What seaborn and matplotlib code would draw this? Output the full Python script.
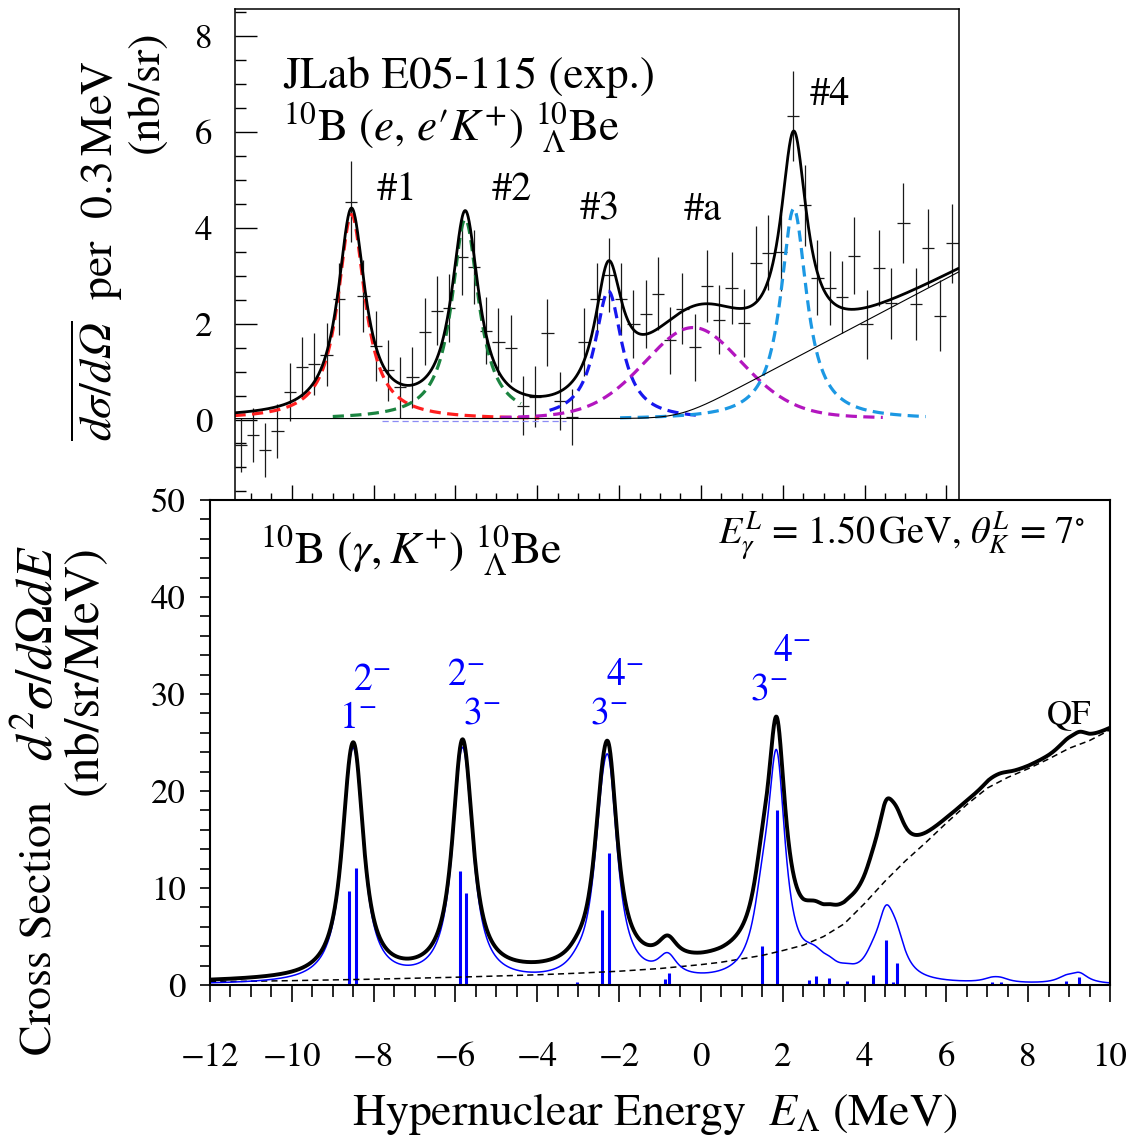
import numpy as np
import matplotlib
matplotlib.use("Agg")
import matplotlib.pyplot as plt
import seaborn as sns
from matplotlib.ticker import MultipleLocator

# ---------------- upper panel: JLab E05-115 spectrum (per 0.3 MeV bin) ----------------
bin_width = 0.3
first_bin_center = -11.25
counts = [-0.53, -0.32, -0.64, -0.24, 0.57, 1.10, 1.16, 1.35, 2.52, 4.55,
          2.58, 1.54, 1.03, 0.67, 0.88, 1.83, 2.27, 2.33, 3.40, 3.19,
          1.85, 1.62, 1.49, 0.29, 0.48, 1.81, 0.39, 0.05, 1.62, 2.52,
          3.02, 2.51, 1.99, 2.21, 2.63, 1.65, 2.31, 1.51, 2.79, 2.08,
          2.75, 2.02, 3.27, 3.48, 3.49, 6.34, 4.47, 2.96, 2.75, 2.56,
          3.42, 1.99, 3.16, 2.43, 4.10, 2.41, 3.58, 2.17, 3.68]
errors = [0.56, 0.56, 0.56, 0.57, 0.61, 0.63, 0.64, 0.66, 0.75, 0.84,
          0.75, 0.73, 0.64, 0.63, 0.63, 0.70, 0.72, 0.71, 0.80, 0.77,
          0.70, 0.70, 0.70, 0.61, 0.63, 0.70, 0.61, 0.59, 0.71, 0.75,
          0.77, 0.75, 0.71, 0.71, 0.77, 0.70, 0.74, 0.70, 0.75, 0.72,
          0.75, 0.71, 0.78, 0.78, 0.80, 0.94, 0.85, 0.78, 0.77, 0.75,
          0.81, 0.72, 0.79, 0.74, 0.84, 0.75, 0.81, 0.74, 0.82]

# fitted peaks #1 #2 #3 #a #4 (centre, height, FWHM, lorentzian fraction, drawn range)
peak_names = ["#1", "#2", "#3", "#a", "#4"]
peak_center = [-8.54, -5.76, -2.26, -0.19, 2.27]
peak_height = [4.28, 4.18, 2.68, 1.92, 4.40]
peak_fwhm = [0.80, 0.80, 0.80, 2.90, 0.77]
peak_lor_frac = [1.0, 1.0, 1.0, 0.25, 1.0]
peak_from = [-11.4, -9.0, -3.7, -4.9, -1.98]
peak_to = [-3.95, -4.4, 0.0, 4.45, 5.5]
peak_colors = ["#ff1f1f", "#1b8440", "#1717ee", "#b316bf", "#1c98e3"]

# smooth-threshold background of the fit
bg_slope, bg_onset, bg_soft, bg_floor = 0.45, -0.5, 0.35, 0.02
# empty component drawn flat near zero
null_range = [-7.8, -3.3]
null_level = -0.04

# ---------------- lower panel: 10B(gamma,K+) theory ----------------
state_energy = [-8.60, -8.43, -5.89, -5.74, -3.03, -2.43, -2.24, -0.89, -0.78,
                1.50, 1.85, 2.63, 2.81, 3.13, 3.56, 4.20, 4.52, 4.69, 4.79,
                7.11, 7.33, 8.92, 9.25]
state_strength = [9.69, 12.1, 11.75, 9.52, 0.35, 7.73, 13.6, 0.62, 1.2,
                  4.05, 18.0, 0.52, 0.93, 0.69, 0.38, 1.03, 4.64, 0.34, 2.23,
                  0.30, 0.30, 0.45, 0.80]
state_width = 0.52

qf_energy = [-12, -10, -8, -6, -4, -3, -2, -1, 0, 0.5, 1, 1.5, 2, 2.5, 3, 3.5,
             4, 4.5, 5, 5.5, 6, 6.5, 7, 7.5, 8, 8.5, 9, 9.5, 10]
qf_xsec = [0.33, 0.45, 0.60, 0.80, 1.05, 1.22, 1.42, 1.70, 2.10, 2.35, 2.70, 3.05,
           3.55, 4.10, 5.00, 6.30, 8.40, 10.7, 12.8, 14.7, 16.7, 18.6, 20.3, 21.4,
           22.3, 23.3, 24.4, 25.2, 26.3]

jpi_labels = ["1", "2", "2", "3", "3", "4", "3", "4"]


def profile(E, c, h, fwhm, eta):
    d2 = (E - c) ** 2
    gau = np.exp(-4 * np.log(2) * d2 / fwhm ** 2)
    lor = 1.0 / (1.0 + 4 * d2 / fwhm ** 2)
    return h * (eta * lor + (1 - eta) * gau)


W, H = 1138, 1139
sns.set_theme(style="ticks")
plt.rcParams["font.family"] = ["STIXGeneral", "DejaVu Sans"]
plt.rcParams["mathtext.fontset"] = "stix"
plt.rcParams["text.color"] = "black"
plt.rcParams["axes.edgecolor"] = "black"
plt.rcParams["xtick.color"] = "black"
plt.rcParams["ytick.color"] = "black"


def fx(px):
    return px / W


def fy(py):
    return 1 - py / H


fig = plt.figure(figsize=(W / 100, H / 100), dpi=100)
ax_top = fig.add_axes([fx(234.5), fy(500), (958.6 - 234.5) / W, (500 - 8.5) / H])
ax_bot = fig.add_axes([fx(210), fy(985), 900 / W, 485 / H])

# ---- upper panel ----
E = np.linspace(-11.4, 6.3, 3000)
bg = bg_floor + bg_slope * bg_soft * np.log1p(np.exp((E - bg_onset) / bg_soft))
total = bg.copy()
comps = []
for c, h, f, eta in zip(peak_center, peak_height, peak_fwhm, peak_lor_frac):
    y = profile(E, c, h, f, eta)
    comps.append(y)
    total += y

xc = first_bin_center + bin_width * np.arange(len(counts))
ax_top.errorbar(xc, counts, yerr=errors, xerr=bin_width / 2, fmt="none",
                ecolor="#1a1a1a", elinewidth=0.9, capsize=0)

sns.lineplot(x=null_range, y=[null_level, null_level], ax=ax_top, color="#8c8cf5",
             lw=0.9, linestyle=(0, (5, 3)))
for y, lo, hi, col in zip(comps, peak_from, peak_to, peak_colors):
    m = (E >= lo) & (E <= hi)
    sns.lineplot(x=E[m], y=y[m], ax=ax_top, color=col, lw=2.3,
                 linestyle=(0, (3.5, 2.0)), estimator=None)
sns.lineplot(x=E, y=bg, ax=ax_top, color="black", lw=0.8, estimator=None)
sns.lineplot(x=E, y=total, ax=ax_top, color="black", lw=2.0, estimator=None)

ax_top.set_xlim(-11.4, 6.3)
ax_top.set_ylim(-1.68, 8.58)
ax_top.xaxis.set_major_locator(MultipleLocator(2))
ax_top.xaxis.set_minor_locator(MultipleLocator(0.5))
ax_top.yaxis.set_major_locator(MultipleLocator(2))
ax_top.yaxis.set_minor_locator(MultipleLocator(0.5))
ax_top.tick_params(axis="x", which="both", direction="in", labelbottom=False,
                   top=False, width=1)
ax_top.tick_params(axis="x", which="major", length=10.8)
ax_top.tick_params(axis="x", which="minor", length=5)
ax_top.tick_params(axis="y", which="both", direction="in", right=False, width=1)
ax_top.tick_params(axis="y", which="major", length=16, labelsize=25, pad=16)
ax_top.tick_params(axis="y", which="minor", length=8)
ax_top.set_xlabel("")
ax_top.set_ylabel("")
for s in ax_top.spines.values():
    s.set_linewidth(1.1)

# ---- lower panel ----
Eb = np.linspace(-12, 10, 4400)
half = state_width / 2
blue = np.zeros_like(Eb)
for e0, s in zip(state_energy, state_strength):
    blue += s / np.pi * half / ((Eb - e0) ** 2 + half ** 2)
black = blue + np.interp(Eb, qf_energy, qf_xsec)

ax_bot.vlines(state_energy, 0, state_strength, colors="#0000ff", lw=2.2)
sns.lineplot(x=qf_energy, y=qf_xsec, ax=ax_bot, color="black", lw=1.1,
             linestyle=(0, (4, 2.7)))
sns.lineplot(x=Eb, y=blue, ax=ax_bot, color="#0000ff", lw=1.1, estimator=None)
sns.lineplot(x=Eb, y=black, ax=ax_bot, color="black", lw=2.8, estimator=None)

ax_bot.set_xlim(-12, 10)
ax_bot.set_ylim(0, 50)
ax_bot.xaxis.set_major_locator(MultipleLocator(2))
ax_bot.xaxis.set_minor_locator(MultipleLocator(0.5))
ax_bot.yaxis.set_major_locator(MultipleLocator(10))
ax_bot.yaxis.set_minor_locator(MultipleLocator(2))
ax_bot.tick_params(axis="x", which="both", direction="out", top=False, width=1.2)
ax_bot.tick_params(axis="x", which="major", length=12.2, labelsize=25, pad=29)
ax_bot.tick_params(axis="x", which="minor", length=8.6)
ax_bot.tick_params(axis="y", which="both", direction="out", right=False, width=1.2)
ax_bot.tick_params(axis="y", which="major", length=7.5, labelsize=25, pad=10)
ax_bot.tick_params(axis="y", which="minor", length=7.2)
ax_bot.set_xlabel("")
ax_bot.set_ylabel("")
for s in ax_bot.spines.values():
    s.set_linewidth(1.5)

# ---- texts ----
fig.text(fx(283), fy(88), "JLab E05-115 (exp.)", fontsize=32.5, va="baseline")
fig.text(fx(283), fy(140), "$^{10}$B ($e$, $e$\u2032$K^{+}$) $^{10}_{\\ \\Lambda}$Be",
         fontsize=32.5, va="baseline")
peak_label_px = [(377, 200), (492, 200), (580, 220), (684, 220), (810, 105)]
for name, (px, py) in zip(peak_names, peak_label_px):
    fig.text(fx(px), fy(py), name, fontsize=29, va="baseline")

fig.text(fx(97), fy(251), "$\\overline{d\\sigma/d\U0001D6FA}$  per  0.3$\\,$MeV",
         rotation=90, ha="center", va="center", fontsize=33)
fig.text(fx(147), fy(30), "(nb/sr)", rotation=90, ha="center", va="top", fontsize=33)

fig.text(fx(40), fy(1055), "Cross Section", rotation=90, ha="center", va="bottom",
         fontsize=33)
fig.text(fx(40), fy(545), r"$d^{2}\sigma/d\Omega dE$", rotation=90, ha="center",
         va="top", fontsize=37)
fig.text(fx(84), fy(545), "(nb/sr/MeV)", rotation=90, ha="center", va="top",
         fontsize=36)
fig.text(fx(655), fy(1125), r"Hypernuclear Energy  $E_{\Lambda}$ (MeV)",
         ha="center", va="baseline", fontsize=33)

fig.text(fx(260), fy(563), r"$^{10}$B $(\gamma, K^{+})$ $^{10}_{\ \Lambda}$Be",
         fontsize=33, va="baseline")
fig.text(fx(1085), fy(544),
         r"$E^{L}_{\gamma}$ = 1.50$\,$GeV, $\theta^{L}_{K}$ = 7$^{\circ}$",
         ha="right", va="baseline", fontsize=27.5)

jpi_px = [(339, 728), (353, 690), (447, 685), (463, 724), (590, 724), (606, 685),
          (750, 699), (773, 661)]
for lab, (px, py) in zip(jpi_labels, jpi_px):
    fig.text(fx(px), fy(py), r"$%s^{-}$" % lab, color="#0000ff", fontsize=27,
             va="baseline")
fig.text(fx(1047), fy(723), "QF", fontsize=25, va="baseline")

fig.savefig("out.png", dpi=100)
